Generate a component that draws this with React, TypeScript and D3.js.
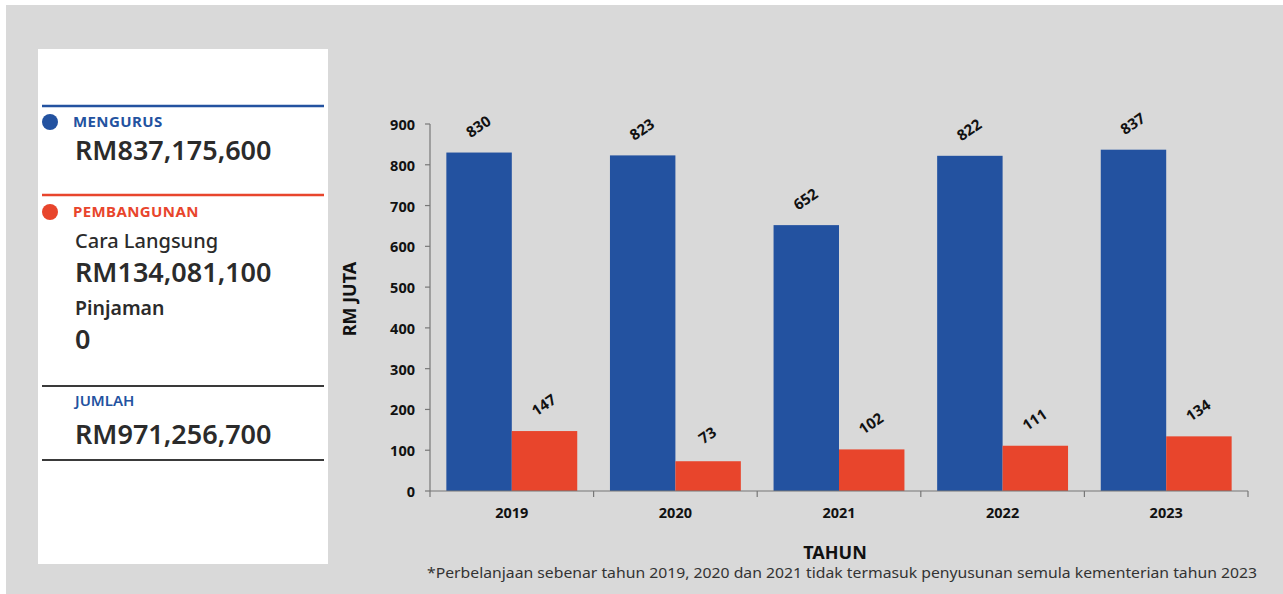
import React from "react";
import * as d3 from "d3";

const years = ["2019", "2020", "2021", "2022", "2023"];
const mengurus = [830, 823, 652, 822, 837];
const pembangunan = [147, 73, 102, 111, 134];
const yTicks = [0, 100, 200, 300, 400, 500, 600, 700, 800, 900];
const footnote =
  "*Perbelanjaan sebenar tahun 2019, 2020 dan 2021 tidak termasuk penyusunan semula kementerian tahun 2023";

const W = 1283;
const H = 594;
const BLUE = "#2352a0";
const RED = "#e8452c";
const BG = "#d9d9d9";
const FONT = "'Noto Sans', 'Open Sans', sans-serif";

export default function App() {
  const x0 = d3.scaleBand<string>().domain(years).range([430, 1248]).paddingInner(0.2).paddingOuter(0.1);
  const x1 = d3.scaleBand<string>().domain(["m", "p"]).range([0, x0.bandwidth()]);
  const y = d3.scaleLinear().domain([0, 900]).range([491, 124]);
  const step = x0.step();
  const boundaries = d3.range(years.length + 1).map((i) => 430 + i * step);

  const series = [
    { key: "m", values: mengurus, color: BLUE },
    { key: "p", values: pembangunan, color: RED },
  ];

  return (
    <svg width={W} height={H} style={{ position: "absolute", left: 0, top: 0 }} fontFamily={FONT}>
      <rect x={0} y={0} width={W} height={H} fill="#fff" />
      <rect x={6} y={5} width={W - 6} height={H - 5} fill={BG} />
      {/* left panel */}
      <rect x={38} y={49} width={290} height={515} fill="#fff" />
      <line x1={42} x2={324} y1={106} y2={106} stroke={BLUE} strokeWidth={2.5} />
      <circle cx={50} cy={122} r={8} fill={BLUE} />
      <text x={73} y={127} fontSize={15} fontWeight={700} fill={BLUE} letterSpacing={0.4}>MENGURUS</text>
      <text x={75} y={160} fontSize={27} fontWeight={600} fill="#2b2b2b">RM837,175,600</text>
      <line x1={42} x2={324} y1={195} y2={195} stroke={RED} strokeWidth={2.5} />
      <circle cx={50} cy={212} r={8} fill={RED} />
      <text x={73} y={217} fontSize={15} fontWeight={700} fill={RED} letterSpacing={0.4}>PEMBANGUNAN</text>
      <text x={75} y={248} fontSize={20} fontWeight={500} fill="#2b2b2b">Cara Langsung</text>
      <text x={75} y={282} fontSize={27} fontWeight={600} fill="#2b2b2b">RM134,081,100</text>
      <text x={75} y={315} fontSize={19.5} fontWeight={600} fill="#2b2b2b">Pinjaman</text>
      <text x={75} y={349} fontSize={27} fontWeight={600} fill="#2b2b2b">0</text>
      <line x1={42} x2={324} y1={386} y2={386} stroke="#3a3a3a" strokeWidth={2} />
      <text x={75} y={406} fontSize={15} fontWeight={600} fill={BLUE}>JUMLAH</text>
      <text x={75} y={444} fontSize={27} fontWeight={600} fill="#2b2b2b">RM971,256,700</text>
      <line x1={42} x2={324} y1={460} y2={460} stroke="#3a3a3a" strokeWidth={2} />

      {/* bars */}
      {years.map((yr, i) => (
        <g key={yr} transform={`translate(${x0(yr)},0)`}>
          {series.map((s) => {
            const v = s.values[i];
            const bx = x1(s.key)!;
            const bw = x1.bandwidth();
            return (
              <g key={s.key}>
                <rect x={bx} y={y(v)} width={bw} height={y(0) - y(v)} fill={s.color} />
                <text
                  transform={`translate(${bx + bw / 2},${y(v) - 25}) rotate(-34)`}
                  textAnchor="middle"
                  dominantBaseline="middle"
                  fontSize={15}
                  fontWeight={700}
                  fill="#111"
                >
                  {v}
                </text>
              </g>
            );
          })}
        </g>
      ))}

      {/* y axis */}
      <line x1={430} x2={430} y1={124} y2={491} stroke="#777" strokeWidth={1.2} />
      {yTicks.map((t) => (
        <g key={t}>
          <line x1={425} x2={430} y1={y(t)} y2={y(t)} stroke="#777" strokeWidth={1.2} />
          <text x={415} y={y(t)} textAnchor="end" dominantBaseline="central" fontSize={14.5} fontWeight={700} fill="#111">
            {t}
          </text>
        </g>
      ))}
      {/* x axis */}
      <line x1={430} x2={1248} y1={491} y2={491} stroke="#777" strokeWidth={1.2} />
      {boundaries.map((b, i) => (
        <line key={i} x1={b} x2={b} y1={491} y2={497} stroke="#777" strokeWidth={1.2} />
      ))}
      {years.map((yr) => (
        <text key={yr} x={x0(yr)! + x0.bandwidth() / 2} y={518} textAnchor="middle" fontSize={14.5} fontWeight={700} fill="#111">
          {yr}
        </text>
      ))}

      <text transform="translate(356,299) rotate(-90)" textAnchor="middle" fontSize={18} fontWeight={700} fill="#111">
        RM JUTA
      </text>
      <text x={835} y={559} textAnchor="middle" fontSize={18} fontWeight={700} fill="#111">
        TAHUN
      </text>
      <text x={427} y={578} fontSize={15} fill="#333" textLength={830} lengthAdjust="spacingAndGlyphs">
        {footnote}
      </text>
    </svg>
  );
}
